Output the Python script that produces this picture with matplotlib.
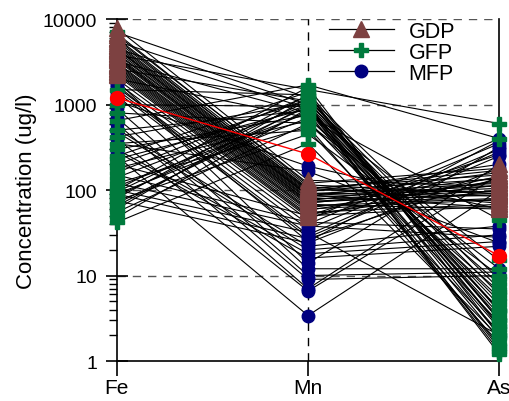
import matplotlib
matplotlib.use("Agg")
import matplotlib.pyplot as plt
from matplotlib.lines import Line2D
from matplotlib.ticker import FixedLocator, NullFormatter

plt.rcParams['font.family'] = ['Liberation Sans', 'DejaVu Sans']

categories = ["Fe", "Mn", "As"]

gdp_fe = [7800, 6500, 6000, 5500, 5200, 5000, 4800, 4600, 4400, 4200, 4000, 3900, 3700, 3500, 3400,
          3300, 3100, 3000, 2900, 2800, 2700, 2600, 2500, 2400, 2300, 2200, 6800, 5800, 4500, 3600]
gdp_mn = [130, 120, 110, 105, 100, 98, 95, 92, 90, 88, 85, 82, 80, 78, 75,
          72, 70, 68, 65, 62, 60, 58, 55, 52, 50, 48, 115, 102, 86, 74]
gdp_as = [110, 180, 70, 150, 95, 135, 200, 85, 120, 62, 160, 105, 75, 98, 140,
          92, 125, 60, 80, 115, 78, 130, 68, 100, 65, 145, 90, 170, 112, 88]

gfp_fe = [7000, 5500, 4500, 3800, 3200, 2600, 2000, 1500, 1000, 800, 650, 500, 420, 350, 300,
          250, 230, 200, 180, 160, 140, 120, 110, 100, 95, 90, 85, 80, 75, 70, 65, 60, 55, 48, 42]
gfp_mn = [1200, 1000, 900, 1500, 800, 1100, 700, 1300, 950, 600, 1700, 850, 1050, 500, 750,
          1400, 900, 1150, 650, 1250, 1000, 550, 800, 1600, 1100, 700, 950, 1300, 450, 850,
          1000, 1200, 600, 900, 350]
gfp_as = [3, 2, 5, 600, 1.5, 4, 8, 2.5, 3.5, 12, 400, 1.8, 6, 2.2, 45,
          3, 1.3, 7, 2.8, 9, 4.5, 1.6, 15, 2, 3.2, 5.5, 1.4, 2.6, 10, 4,
          1.2, 3.8, 6.5, 2.4, 1.9]

mfp_fe = [2000, 1800, 1600, 1500, 1400, 1700, 520, 480, 300, 280, 1900, 1300, 900, 700, 600,
          400, 250, 200, 150, 120, 100, 90, 75, 1100, 350]
mfp_mn = [45, 40, 35, 30, 28, 25, 22, 20, 18, 16, 14, 12, 10, 9, 7,
          6.6, 3.4, 50, 42, 38, 32, 27, 24, 190, 165]
mfp_as = [400, 350, 300, 280, 250, 380, 38, 30, 25, 22, 320, 12, 11, 10, 200,
          150, 100, 260, 35, 28, 2, 140, 180, 60, 24]

mean_vals = [1200, 264, 17]

C_GDP = "#7d4141"
C_GFP = "#007a3d"
C_MFP = "#000080"

fig = plt.figure(figsize=(5.10, 4.02), dpi=100)
ax = fig.add_axes([0.229, 0.0995, 0.750, 0.8505])
x = [0, 1, 2]

groups = [
    (mfp_fe, mfp_mn, mfp_as, C_MFP, 'o', 9),
    (gfp_fe, gfp_mn, gfp_as, C_GFP, 'P', 10),
    (gdp_fe, gdp_mn, gdp_as, C_GDP, '^', 11),
]
for fe, mn, as_, col, mk, ms in groups:
    for a, b, c in zip(fe, mn, as_):
        ax.plot(x, [a, b, c], color='black', lw=0.8, zorder=2)
for fe, mn, as_, col, mk, ms in groups:
    for a, b, c in zip(fe, mn, as_):
        ax.plot(x, [a, b, c], linestyle='none', marker=mk, ms=ms, color=col,
                markeredgecolor=col, zorder=3, clip_on=False)

ax.plot(x, mean_vals, color='red', lw=1.0, marker='o', ms=10, zorder=4, clip_on=False)

ax.set_yscale('log')
ax.set_ylim(1, 10000)
ax.set_xlim(0, 2)

for yv in [10, 100, 1000, 10000]:
    ax.axhline(yv, color='#555555', lw=1.0, ls=(0, (6, 5)), zorder=1)
ax.axvline(1, color='black', lw=1.0, ls=(0, (6, 5)), zorder=1)

ax.spines['top'].set_visible(False)
for s in ['left', 'right', 'bottom']:
    ax.spines[s].set_linewidth(1.2)

ax.set_xticks(x)
ax.set_xticklabels(categories, fontsize=15)
ax.tick_params(axis='x', direction='out', length=11, width=1.2, pad=1)

ax.yaxis.set_major_locator(FixedLocator([1, 10, 100, 1000, 10000]))
ax.set_yticklabels(["1", "10", "100", "1000", "10000"])
ax.yaxis.set_minor_locator(FixedLocator([m * 10 ** e for e in range(0, 4) for m in range(2, 10)]))
ax.yaxis.set_minor_formatter(NullFormatter())
ax.tick_params(axis='y', which='major', direction='inout', length=16, width=1.2, labelsize=14, pad=6)
ax.tick_params(axis='y', which='minor', direction='out', length=6, width=1.0)
ax.set_ylabel("Concentration (ug/l)", fontsize=16, labelpad=4)

handles = [
    Line2D([], [], color='black', lw=0.9, marker='^', ms=11, markerfacecolor=C_GDP, markeredgecolor=C_GDP),
    Line2D([], [], color='black', lw=0.9, marker='P', ms=10, markerfacecolor=C_GFP, markeredgecolor=C_GFP),
    Line2D([], [], color='black', lw=0.9, marker='o', ms=9, markerfacecolor=C_MFP, markeredgecolor=C_MFP),
]
ax.legend(handles, ["GDP", "GFP", "MFP"], loc='upper left', bbox_to_anchor=(0.555, 0.995),
          frameon=False, fontsize=15.5, handlelength=3.0, labelspacing=0.0, handletextpad=0.7,
          borderpad=0, borderaxespad=0)

fig.savefig("out.png", dpi=100)
